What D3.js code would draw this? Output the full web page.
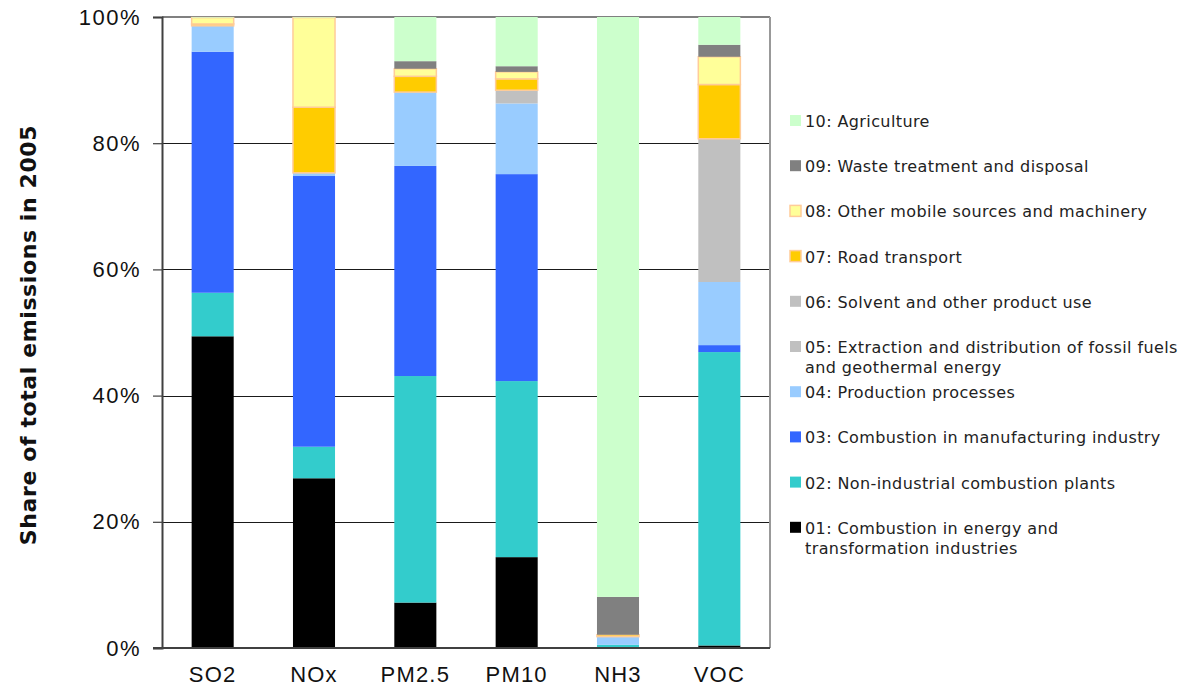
<!DOCTYPE html>
<html>
<head>
<meta charset="utf-8">
<script src="https://cdn.jsdelivr.net/npm/d3@7/dist/d3.min.js"></script>
<style>
  html, body { margin: 0; padding: 0; background: #fff; }
  svg { display: block; }
</style>
</head>
<body>
<svg id="chart" width="1182" height="700"></svg>
<script>
// Pollutants on the x axis
const pollutants = ["SO2", "NOx", "PM2.5", "PM10", "NH3", "VOC"];

// Source sectors, bottom of the stack first
const sectorKeys = ["s01", "s02", "s03", "s04", "s05", "s06", "s07", "s08", "s09", "s10"];
const sectorLabels = [
  ["01: Combustion in energy and", "transformation industries"],
  ["02: Non-industrial combustion plants"],
  ["03: Combustion in manufacturing industry"],
  ["04: Production processes"],
  ["05: Extraction and distribution of fossil fuels", "and geothermal energy"],
  ["06: Solvent and other product use"],
  ["07: Road transport"],
  ["08: Other mobile sources and machinery"],
  ["09: Waste treatment and disposal"],
  ["10: Agriculture"]
];
const sectorColors = ["#000000", "#33CCCC", "#3366FF", "#99CCFF", "#C0C0C0",
                      "#C0C0C0", "#FFCC00", "#FFFF99", "#808080", "#CCFFCC"];

// Share of total emissions (%) per sector, one array per pollutant
const shareSO2  = [49.4, 6.9, 38.2, 4.1, 0.0, 0.0, 0.3, 1.0, 0.0, 0.1];
const shareNOx  = [26.9, 5.0, 42.9, 0.5, 0.0, 0.0, 10.4, 14.2, 0.0, 0.1];
const sharePM25 = [7.2, 35.9, 33.3, 11.7, 0.0, 0.0, 2.5, 1.2, 1.2, 7.0];
const sharePM10 = [14.4, 27.9, 32.8, 11.2, 0.0, 2.1, 1.8, 1.1, 0.9, 7.8];
const shareNH3  = [0.0, 0.5, 0.0, 1.3, 0.0, 0.0, 0.3, 0.0, 6.0, 91.9];
const shareVOC  = [0.4, 46.5, 1.1, 10.0, 0.0, 22.7, 8.6, 4.4, 1.9, 4.4];
const shares = [shareSO2, shareNOx, sharePM25, sharePM10, shareNH3, shareVOC];

const yTicks = [0, 20, 40, 60, 80, 100];
const yTitle = "Share of total emissions in 2005";

// Build rows for d3.stack
const rows = pollutants.map((p, i) => {
  const r = { pollutant: p };
  sectorKeys.forEach((k, j) => { r[k] = shares[i][j]; });
  return r;
});

const svg = d3.select("#chart");
const margin = { left: 162, right: 412, top: 17, bottom: 52 };
const W = 1182, H = 700;
const plotW = W - margin.left - margin.right;
const plotH = H - margin.top - margin.bottom;

const x = d3.scaleBand().domain(pollutants).range([0, plotW]).paddingInner(0.585).paddingOuter(0.2925);
const y = d3.scaleLinear().domain([0, 100]).range([plotH, 0]);
const color = d3.scaleOrdinal().domain(sectorKeys).range(sectorColors);

const g = svg.append("g").attr("transform", `translate(${margin.left},${margin.top})`);

// Horizontal gridlines
g.append("g").selectAll("line")
  .data(yTicks.filter(t => t > 0 && t < 100))
  .join("line")
  .attr("x1", 0).attr("x2", plotW)
  .attr("y1", d => Math.round(y(d)) + 0.5).attr("y2", d => Math.round(y(d)) + 0.5)
  .attr("stroke", "#1a1a1a").attr("stroke-width", 1);

// Plot frame (top and right edges)
g.append("line").attr("x1", 0).attr("x2", plotW).attr("y1", 0).attr("y2", 0)
  .attr("stroke", "#808080").attr("stroke-width", 2);
g.append("line").attr("x1", plotW).attr("x2", plotW).attr("y1", 0).attr("y2", plotH)
  .attr("stroke", "#999").attr("stroke-width", 2);

// Stacked bars
const stacked = d3.stack().keys(sectorKeys)(rows);
const outlined = new Set(["s07", "s08"]);
g.append("g").selectAll("g")
  .data(stacked)
  .join("g")
  .attr("fill", d => color(d.key))
  .attr("stroke", d => outlined.has(d.key) ? "#FFCC99" : "none")
  .attr("stroke-width", d => outlined.has(d.key) ? 1.5 : 0)
  .selectAll("rect")
  .data(d => d.filter(v => v[1] - v[0] > 0))
  .join("rect")
  .attr("x", d => x(d.data.pollutant))
  .attr("width", x.bandwidth())
  .attr("y", d => y(d[1]))
  .attr("height", d => y(d[0]) - y(d[1]));

// Y axis
const yAxis = g.append("g")
  .call(d3.axisLeft(y).tickValues(yTicks).tickFormat(d => d + "%").tickSize(9).tickPadding(12));
yAxis.select(".domain").attr("stroke", "#404040").attr("stroke-width", 2);
yAxis.selectAll(".tick line").attr("stroke", "#404040").attr("stroke-width", 1.2);
yAxis.selectAll("text")
  .attr("font-family", "'Liberation Sans', Arial, sans-serif")
  .attr("font-size", 22).attr("letter-spacing", 1.5).attr("fill", "#111");

// X axis
const xAxis = g.append("g").attr("transform", `translate(0,${plotH})`)
  .call(d3.axisBottom(x).tickSize(0).tickPadding(18));
xAxis.select(".domain").attr("stroke", "#404040").attr("stroke-width", 2)
  .attr("d", `M-9,0H${plotW}`);
xAxis.selectAll("text")
  .attr("font-family", "'Liberation Sans', Arial, sans-serif")
  .attr("font-size", 22).attr("letter-spacing", 1.2).attr("fill", "#111");

// Y axis title
svg.append("text")
  .attr("transform", `translate(36,335) rotate(-90)`)
  .attr("text-anchor", "middle")
  .attr("font-family", "'DejaVu Sans', Verdana, sans-serif")
  .attr("font-weight", "bold").attr("font-size", 22).attr("fill", "#111")
  .attr("letter-spacing", 0.6)
  .text(yTitle);

// Legend, top entry is the last sector
const legendTop = 121, legendStep = 45.2;
const legend = svg.append("g");
const order = sectorKeys.map((k, i) => i).reverse();
order.forEach((si, row) => {
  const cy = legendTop + row * legendStep;
  const k = sectorKeys[si];
  legend.append("rect")
    .attr("x", 790).attr("y", cy - 6).attr("width", 11).attr("height", 11)
    .attr("fill", color(k))
    .attr("stroke", outlined.has(k) ? "#FFCC99" : "none")
    .attr("stroke-width", outlined.has(k) ? 1.5 : 0);
  const t = legend.append("text")
    .attr("x", 805).attr("y", cy + 6)
    .attr("font-family", "'DejaVu Sans', Verdana, sans-serif")
    .attr("font-size", 16).attr("letter-spacing", 0.4).attr("fill", "#222");
  sectorLabels[si].forEach((line, li) => {
    t.append("tspan").attr("x", 805).attr("dy", li === 0 ? 0 : 20).text(line);
  });
});
</script>
</body>
</html>
